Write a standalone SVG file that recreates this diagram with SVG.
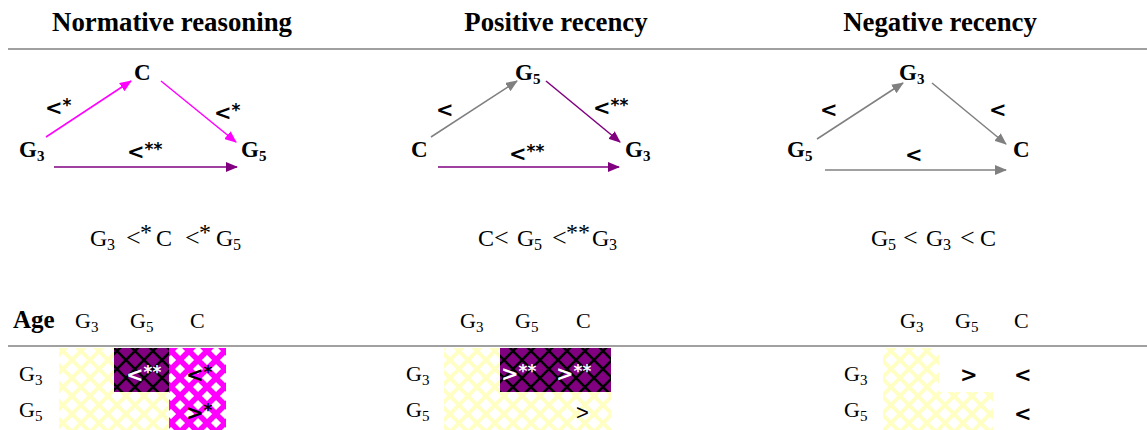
<svg xmlns="http://www.w3.org/2000/svg" width="1147" height="430" viewBox="0 0 1147 430">
<style>
.h{font-family:"Liberation Serif",serif;font-weight:bold;font-size:26.8px;text-anchor:middle}
.n{font-family:"Liberation Serif",serif;font-weight:bold;font-size:23px}
.age{font-family:"Liberation Serif",serif;font-weight:bold;font-size:25px}
.r{font-family:"Liberation Serif",serif;font-size:22px}
.f{font-family:"Liberation Serif",serif;font-size:24px}
.lt{font-family:"Liberation Serif",serif;font-size:26px}
.sub{font-size:15px}
.fs{font-size:16px}
.c{font-family:"DejaVu Sans",sans-serif;font-weight:bold;font-size:21px}
.cn{font-family:"Liberation Sans",sans-serif;font-size:22px}
.st{font-size:17px}
.rule{stroke:#808080;stroke-width:1.5}
.mag{stroke:#FF00FF;stroke-width:1.5;fill:none}
.pur{stroke:#800080;stroke-width:1.5;fill:none}
.gry{stroke:#808080;stroke-width:1.5;fill:none}
.w{fill:#fff}
</style>
<defs>
<marker id="am" markerUnits="userSpaceOnUse" markerWidth="12" markerHeight="10" refX="11" refY="5" orient="auto"><path d="M0,0 L12,5 L0,10 z" fill="#FF00FF"/></marker>
<marker id="ap" markerUnits="userSpaceOnUse" markerWidth="12" markerHeight="10" refX="11" refY="5" orient="auto"><path d="M0,0 L12,5 L0,10 z" fill="#800080"/></marker>
<marker id="ag" markerUnits="userSpaceOnUse" markerWidth="12" markerHeight="10" refX="11" refY="5" orient="auto"><path d="M0,0 L12,5 L0,10 z" fill="#808080"/></marker>
<pattern id="py" patternUnits="userSpaceOnUse" width="18" height="18">
<rect width="18" height="18" fill="#fff"/>
<path d="M-18,0 L18,36 M0,-18 L36,18 M-9,-9 L27,27 M36,0 L0,36 M18,-18 L-18,18 M27,-9 L-9,27" stroke="#FFFFC4" stroke-width="4"/>
</pattern>
<pattern id="pp" patternUnits="userSpaceOnUse" width="18" height="18">
<rect width="18" height="18" fill="#800080"/>
<path d="M-18,0 L18,36 M0,-18 L36,18 M-9,-9 L27,27 M36,0 L0,36 M18,-18 L-18,18 M27,-9 L-9,27" stroke="#000" stroke-width="2.5"/>
</pattern>
<pattern id="pm" patternUnits="userSpaceOnUse" width="18" height="18">
<rect width="18" height="18" fill="#fff"/>
<path d="M-18,0 L18,36 M0,-18 L36,18 M-9,-9 L27,27 M36,0 L0,36 M18,-18 L-18,18 M27,-9 L-9,27" stroke="#FF00FF" stroke-width="5.5"/>
</pattern>
</defs>
<rect width="1147" height="430" fill="#fff"/>

<g id="headers">
<text class="h" x="172" y="31">Normative reasoning</text>
<text class="h" x="556" y="31">Positive recency</text>
<text class="h" x="940" y="31">Negative recency</text>
<line class="rule" x1="8" y1="49" x2="1147" y2="49"/>
</g>

<g id="connectors">
<line class="mag" x1="46" y1="137" x2="131" y2="81" marker-end="url(#am)"/>
<line class="mag" x1="161" y1="81" x2="236" y2="142" marker-end="url(#am)"/>
<line class="pur" x1="54" y1="167" x2="237" y2="167" marker-end="url(#ap)"/>
<line class="gry" x1="431" y1="137" x2="517" y2="81" marker-end="url(#ag)"/>
<line class="pur" x1="546" y1="81" x2="620" y2="142" marker-end="url(#ap)"/>
<line class="pur" x1="438" y1="167" x2="619" y2="167" marker-end="url(#ap)"/>
<line class="gry" x1="817" y1="139" x2="903" y2="83" marker-end="url(#ag)"/>
<line class="gry" x1="932" y1="83" x2="1006" y2="144" marker-end="url(#ag)"/>
<line class="gry" x1="825" y1="170" x2="1006" y2="170" marker-end="url(#ag)"/>
<text class="c" x="45" y="115">&lt;<tspan class="st" dy="-4">*</tspan></text>
<text class="c" x="214" y="120">&lt;<tspan class="st" dy="-4">*</tspan></text>
<text class="c" x="127" y="159">&lt;<tspan class="st" dy="-4">**</tspan></text>
<text class="c" x="436" y="117">&lt;</text>
<text class="c" x="593" y="115">&lt;<tspan class="st" dy="-4">**</tspan></text>
<text class="c" x="509" y="161">&lt;<tspan class="st" dy="-4">**</tspan></text>
<text class="c" x="820" y="117">&lt;</text>
<text class="c" x="989" y="117">&lt;</text>
<text class="c" x="905" y="162">&lt;</text>
</g>

<g id="node-p1-C"><text class="n" x="134" y="80">C</text></g>
<g id="node-p1-G3"><text class="n" x="19" y="157">G<tspan class="sub" dy="4">3</tspan></text></g>
<g id="node-p1-G5"><text class="n" x="241" y="157">G<tspan class="sub" dy="4">5</tspan></text></g>
<g id="node-p2-G5"><text class="n" x="515" y="80">G<tspan class="sub" dy="4">5</tspan></text></g>
<g id="node-p2-C"><text class="n" x="411" y="157">C</text></g>
<g id="node-p2-G3"><text class="n" x="625" y="157">G<tspan class="sub" dy="4">3</tspan></text></g>
<g id="node-p3-G3"><text class="n" x="899" y="80">G<tspan class="sub" dy="4">3</tspan></text></g>
<g id="node-p3-G5"><text class="n" x="787" y="157">G<tspan class="sub" dy="4">5</tspan></text></g>
<g id="node-p3-C"><text class="n" x="1013" y="157">C</text></g>

<g id="formulas">
<text class="f" x="90" y="246">G<tspan class="fs" x="107" y="250">3</tspan><tspan class="lt" x="126" y="246">&lt;</tspan><tspan x="140" y="240">*</tspan><tspan x="156" y="246">C</tspan><tspan class="lt" x="185" y="246">&lt;</tspan><tspan x="199" y="240">*</tspan><tspan x="216" y="246">G</tspan><tspan class="fs" x="233" y="250">5</tspan></text>
<text class="f" x="478" y="246">C<tspan class="lt" x="494" y="246">&lt;</tspan><tspan x="517" y="246">G</tspan><tspan class="fs" x="534" y="250">5</tspan><tspan class="lt" x="552" y="246">&lt;</tspan><tspan x="566" y="240">**</tspan><tspan x="592" y="246">G</tspan><tspan class="fs" x="609" y="250">3</tspan></text>
<text class="f" x="871" y="246">G<tspan class="fs" x="888" y="250">5</tspan><tspan class="lt" x="903" y="246">&lt;</tspan><tspan x="926" y="246">G</tspan><tspan class="fs" x="943" y="250">3</tspan><tspan class="lt" x="960" y="246">&lt;</tspan><tspan x="980" y="246">C</tspan></text>
</g>

<g id="table">
<text class="age" x="13" y="328">Age</text>
<text class="r" x="75" y="328">G<tspan class="sub" dy="4">3</tspan></text>
<text class="r" x="130" y="328">G<tspan class="sub" dy="4">5</tspan></text>
<text class="r" x="190" y="328">C</text>
<text class="r" x="460" y="328">G<tspan class="sub" dy="4">3</tspan></text>
<text class="r" x="515" y="328">G<tspan class="sub" dy="4">5</tspan></text>
<text class="r" x="576" y="328">C</text>
<text class="r" x="900" y="328">G<tspan class="sub" dy="4">3</tspan></text>
<text class="r" x="955" y="328">G<tspan class="sub" dy="4">5</tspan></text>
<text class="r" x="1014" y="328">C</text>
<line class="rule" x1="8" y1="346" x2="1147" y2="346"/>

<rect x="59" y="348" width="55" height="44" fill="url(#py)"/>
<rect x="114" y="348" width="55" height="44" fill="url(#pp)"/>
<rect x="169" y="348" width="57" height="82" fill="url(#pm)"/>
<rect x="59" y="392" width="110" height="38" fill="url(#py)"/>
<rect x="444" y="348" width="56" height="44" fill="url(#py)"/>
<rect x="500" y="348" width="111" height="44" fill="url(#pp)"/>
<rect x="444" y="392" width="167" height="38" fill="url(#py)"/>
<rect x="883" y="348" width="56" height="44" fill="url(#py)"/>
<rect x="883" y="392" width="110" height="38" fill="url(#py)"/>

<text class="r" x="19" y="381">G<tspan class="sub" dy="4">3</tspan></text>
<text class="r" x="19" y="417">G<tspan class="sub" dy="4">5</tspan></text>
<text class="r" x="406" y="381">G<tspan class="sub" dy="4">3</tspan></text>
<text class="r" x="406" y="417">G<tspan class="sub" dy="4">5</tspan></text>
<text class="r" x="844" y="381">G<tspan class="sub" dy="4">3</tspan></text>
<text class="r" x="844" y="417">G<tspan class="sub" dy="4">5</tspan></text>

<text class="c w" x="126" y="382">&lt;<tspan class="st" dy="-4">**</tspan></text>
<text class="c" x="186" y="382">&lt;<tspan class="st" dy="-4">*</tspan></text>
<text class="c" x="186" y="420">&gt;<tspan class="st" dy="-4">*</tspan></text>
<text class="c w" x="501" y="381">&gt;<tspan class="st" dy="-4">**</tspan></text>
<text class="c w" x="556" y="381">&gt;<tspan class="st" dy="-4">**</tspan></text>
<text class="cn" x="576" y="420">&gt;</text>
<text class="c" x="960" y="382">&gt;</text>
<text class="c" x="1014" y="382">&lt;</text>
<text class="c" x="1014" y="421">&lt;</text>
</g>
</svg>
